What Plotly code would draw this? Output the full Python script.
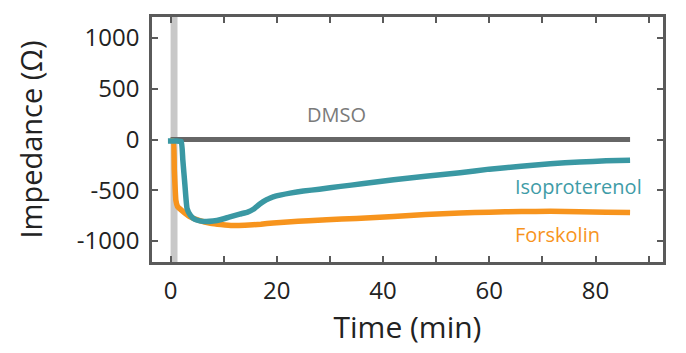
import plotly.graph_objects as go

# ---- data ----
t_dmso = [0, 20, 40, 60, 86.5]
v_dmso = [0, 0, 0, 0, 0]

t_iso = [-0.5, 1.0, 2.0, 2.3, 2.7, 3.1, 3.7, 4.5, 5.5, 6.7, 8.0, 9.5, 11, 13, 14.5, 15.5, 16.8,
         18, 19.3, 20.6, 22.5, 25, 28, 32, 36, 42, 48, 54.5, 60, 66, 71.5, 77, 82, 86.5]
v_iso = [-15, -15, -20, -200, -450, -680, -745, -785, -802, -808, -803, -788, -765, -735, -715, -690, -635,
         -595, -565, -548, -528, -508, -490, -462, -437, -397, -362, -327, -292, -263, -238, -222, -210, -205]

t_forsk = [0, 0.5, 0.7, 1.0, 1.3, 2.3, 3.6, 5.5, 7.5, 9.5, 11.7, 14, 17, 19.3, 22, 26, 29.4, 35,
           42, 48, 54.5, 60, 66, 71.5, 77, 82, 86.5]
v_forsk = [-10, -15, -300, -600, -660, -708, -760, -800, -825, -838, -848, -845, -835, -822, -812, -800,
           -790, -778, -758, -740, -725, -716, -710, -708, -711, -716, -720]

x_ticks = [0, 10, 20, 30, 40, 50, 60, 70, 80, 90]
x_ticktext = ["0", "", "20", "", "40", "", "60", "", "80", ""]
y_ticks = [-1000, -500, 0, 500, 1000]
y_ticktext = ["-1000", "-500", "0", "500", "1000"]

TEAL = "#3a98a3"
ORANGE = "#f7941d"
GRAY = "#666666"
AXC = "#5a5a5a"
FONT = "Open Sans"

fig = go.Figure()
fig.add_vrect(x0=0, x1=1.3, fillcolor="#c8c8c8", line_width=0, layer="below")
fig.add_trace(go.Scatter(x=t_dmso, y=v_dmso, mode="lines", line=dict(color=GRAY, width=5), name="DMSO"))
fig.add_trace(go.Scatter(x=t_forsk, y=v_forsk, mode="lines", line=dict(color=ORANGE, width=5.5, shape="spline", smoothing=0.4), name="Forskolin"))
fig.add_trace(go.Scatter(x=t_iso, y=v_iso, mode="lines", line=dict(color=TEAL, width=5.5, shape="spline", smoothing=0.4), name="Isoproterenol"))

fig.add_annotation(x=31.3, y=247, text="DMSO", showarrow=False, xanchor="center", yanchor="middle",
                   font=dict(family=FONT, size=20, color="#7a7a7a"))
fig.add_annotation(x=64.5, y=-464, text="Isoproterenol", showarrow=False, xanchor="left", yanchor="middle",
                   font=dict(family=FONT, size=20, color="#3f9ca7"))
fig.add_annotation(x=64.5, y=-939, text="Forskolin", showarrow=False, xanchor="left", yanchor="middle",
                   font=dict(family=FONT, size=20, color=ORANGE))

axis_common = dict(showgrid=False, zeroline=False, showline=True, linecolor=AXC, linewidth=2.5,
                   mirror="ticks", ticks="inside", ticklen=6, tickwidth=2, tickcolor=AXC,
                   tickfont=dict(family=FONT, size=24, color="#222222"))

fig.update_layout(
    width=686, height=353,
    margin=dict(l=152, r=23, t=17, b=91),
    plot_bgcolor="white", paper_bgcolor="white",
    showlegend=False,
    xaxis=dict(range=[-3.5, 92.7], tickmode="array", tickvals=x_ticks, ticktext=x_ticktext,
               title=dict(text="Time (min)", font=dict(family=FONT, size=30, color="#222222"), standoff=4),
               ticklabelstandoff=5, **axis_common),
    yaxis=dict(range=[-1207, 1207], tickmode="array", tickvals=y_ticks, ticktext=y_ticktext,
               title=dict(text="Impedance (Ω)", font=dict(family=FONT, size=29, color="#222222"), standoff=26),
               ticklabelstandoff=5, **axis_common),
)

fig.write_html("out.html")
